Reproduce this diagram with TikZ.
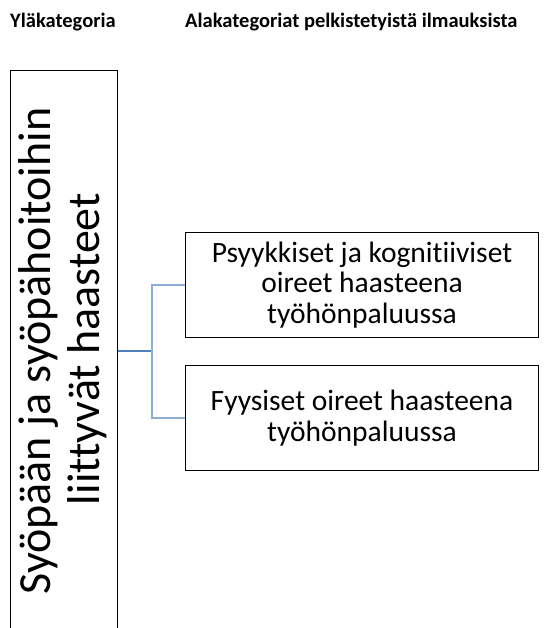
\documentclass[tikz,border=0pt]{standalone}
\usepackage{fontspec}
\setmainfont{Carlito}[Ligatures=NoCommon]
\usetikzlibrary{calc}
\definecolor{linkdark}{RGB}{79,129,189}
\definecolor{linklight}{RGB}{140,174,214}
\begin{document}
\begin{tikzpicture}[x=1pt,y=1pt,
  header/.style={font=\fontsize{20.5}{24}\selectfont\bfseries, inner sep=0pt},
  catbox/.style={draw=black, line width=1pt, inner sep=0pt},
  cattext/.style={rotate=90, anchor=base, inner sep=0pt, font=\fontsize{46}{49}\selectfont},
  subbox/.style={draw=black, line width=1pt, minimum width=353pt, minimum height=105pt,
    align=center, inner sep=2pt, font=\fontsize{29.5}{30.5}\selectfont},
  trunk/.style={draw=linkdark, line width=1.5pt},
  branch/.style={draw=linklight, line width=1.5pt}]
  \useasboundingbox (0,0) rectangle (552,-628);
  \clip (0,0) rectangle (552,-628);

  % column headings
  \node[header, anchor=base west] (hmain) at (10,-27.5) {Yläkategoria};
  \node[header, anchor=base west] (hsub) at (185,-28) {Alakategoriat pelkistetyistä ilmauksista};

  % main category (box runs past the lower edge), label set bottom-to-top
  \node[catbox, minimum width=107pt, minimum height=580pt, anchor=north west] (main) at (10,-70) {};
  \node[cattext] (maintextA) at (50,-351) {Syöpään ja syöpähoitoihin};
  \node[cattext] (maintextB) at (99,-349) {liittyvät haasteet};

  % subcategories
  \node[subbox, anchor=north west] (sub1) at (185,-232)
    {Psyykkiset ja kognitiiviset\\oireet haasteena\\työhönpaluussa};
  \node[subbox, anchor=north west] (sub2) at (185,-365)
    {Fyysiset oireet haasteena\\työhönpaluussa};

  % connectors
  \coordinate (fork) at (152,-351);
  \draw[trunk] (main.east |- fork) -- (fork);
  \draw[branch] (fork) |- (sub1.west);
  \draw[branch] (fork) |- (sub2.west);
\end{tikzpicture}
\end{document}
